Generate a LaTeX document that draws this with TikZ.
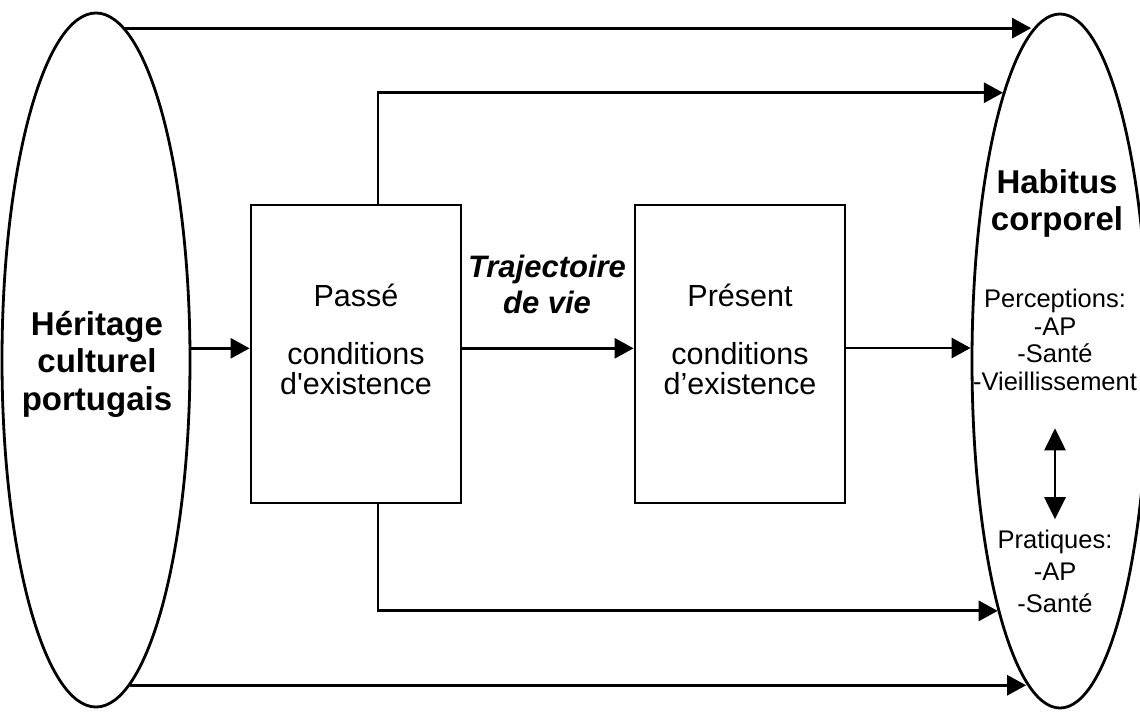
\documentclass[tikz,border=0pt]{standalone}
\usepackage{fontspec}
\setmainfont{Liberation Sans}
\usetikzlibrary{shapes.geometric,arrows.meta}

\begin{document}
\begin{tikzpicture}[x=1pt,y=-1pt,line width=2.8pt,
    oval/.style={ellipse,draw,minimum width=188pt,minimum height=694pt,inner sep=0pt},
    box/.style={rectangle,draw,minimum width=210pt,minimum height=298pt,inner sep=0pt,align=center,text depth=30pt,font=\fontsize{30.5}{30}\selectfont},
    txt/.style={inner sep=0pt,align=center},
    arr/.style={-{Triangle[length=19pt,width=20pt]}},
    dblarr/.style={{Triangle[length=22pt,width=21pt]}-{Triangle[length=22pt,width=21pt]}}]
    \useasboundingbox (0,0) rectangle (1140,712);

    \node (heritage) at (96,360)[oval]{};
    \node (habitus) at (1060,361)[oval,minimum width=176pt]{};
    \node (passe) at (356,354)[box]{Passé\\[28pt]conditions\\d\textquotesingle existence};
    \node (present) at (740,354)[box]{Présent\\[28pt]conditions\\d’existence};
    \node (traj) at (547,284)[txt,font=\fontsize{31}{36}\selectfont\bfseries\itshape]{Trajectoire\\de vie};

    \node (legs) at (97,364)[txt,font=\fontsize{33}{37.5}\selectfont\bfseries]{Héritage\\culturel\\portugais};
    \node (corps) at (1057,203)[txt,font=\fontsize{33}{37}\selectfont\bfseries]{Habitus\\corporel};
    \node (percep) at (1055,340)[txt,font=\fontsize{25.5}{27.7}\selectfont]{Perceptions:\\-AP\\-Santé\\-Vieillissement};
    \node (prat) at (1055,571)[txt,font=\fontsize{25.5}{32}\selectfont]{Pratiques:\\-AP\\-Santé};

    \draw [arr] (heritage.85) to (heritage.85 -| habitus.95);
    \draw [arr] ([xshift=22pt]passe.north) |- (habitus.102);
    \draw [arr] (heritage.7) to (heritage.7 -| passe.west);
    \draw [arr] (heritage.7 -| passe.east) to (heritage.7 -| present.west);
    \draw [arr] ([yshift=6pt]present.east) to ([yshift=6pt]present.east -| habitus.west);
    \draw [arr] ([xshift=22pt]passe.south) |- (habitus.256);
    \draw [arr] (heritage.276) to (heritage.276 -| habitus.264);

    \draw [dblarr,shorten <=36pt,shorten >=9pt] (percep.south) to (prat.north);
\end{tikzpicture}
\end{document}
